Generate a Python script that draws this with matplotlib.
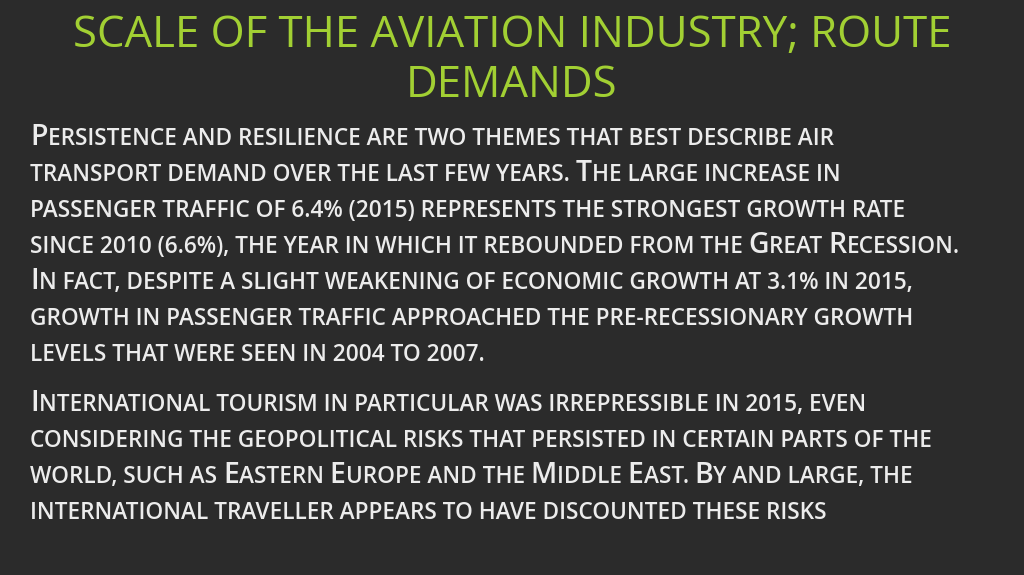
import matplotlib
matplotlib.use('Agg')
import matplotlib.pyplot as plt

title_lines = ["SCALE OF THE AVIATION INDUSTRY; ROUTE", "DEMANDS"]
para1 = [
    "Persistence and resilience are two themes that best describe air",
    "transport demand over the last few years. The large increase in",
    "passenger traffic of 6.4% (2015) represents the strongest growth rate",
    "since 2010 (6.6%), the year in which it rebounded from the Great Recession.",
    "In fact, despite a slight weakening of economic growth at 3.1% in 2015,",
    "growth in passenger traffic approached the pre-recessionary growth",
    "levels that were seen in 2004 to 2007.",
]
para2 = [
    "International tourism in particular was irrepressible in 2015, even",
    "considering the geopolitical risks that persisted in certain parts of the",
    "world, such as Eastern Europe and the Middle East. By and large, the",
    "international traveller appears to have discounted these risks",
]

W, H = 1024, 575
fig = plt.figure(figsize=(W / 100, H / 100), dpi=100)
fig.patch.set_facecolor('#2b2b2b')
ax = fig.add_axes([0, 0, 1, 1])
ax.set_xlim(0, W)
ax.set_ylim(H, 0)
ax.axis('off')

font = 'Open Sans'
green = '#a2d033'
txt = '#ececec'

renderer = fig.canvas.get_renderer()

for i, t in enumerate(title_lines):
    ax.text(W / 2, 47 + i * 50, t, ha='center', va='baseline', fontsize=31.5,
            color=green, family=font, weight='medium')


def runs(line):
    out = []
    for ch in line:
        big = ch.isupper()
        if out and out[-1][1] == big:
            out[-1][0] += ch
        else:
            out.append([ch, big])
    return out


def small_caps(x, y, line, big=20.5, small=16.3):
    for s, isbig in runs(line):
        t = ax.text(x, y, s.upper(), fontsize=big if isbig else small,
                    color=txt, family=font, weight='semibold',
                    va='baseline', ha='left')
        x += t.get_window_extent(renderer).width


y = 145
for ln in para1:
    small_caps(30, y, ln)
    y += 36
y = 411
for ln in para2:
    small_caps(30, y, ln)
    y += 36

fig.savefig('out.png', dpi=100, facecolor=fig.get_facecolor())
